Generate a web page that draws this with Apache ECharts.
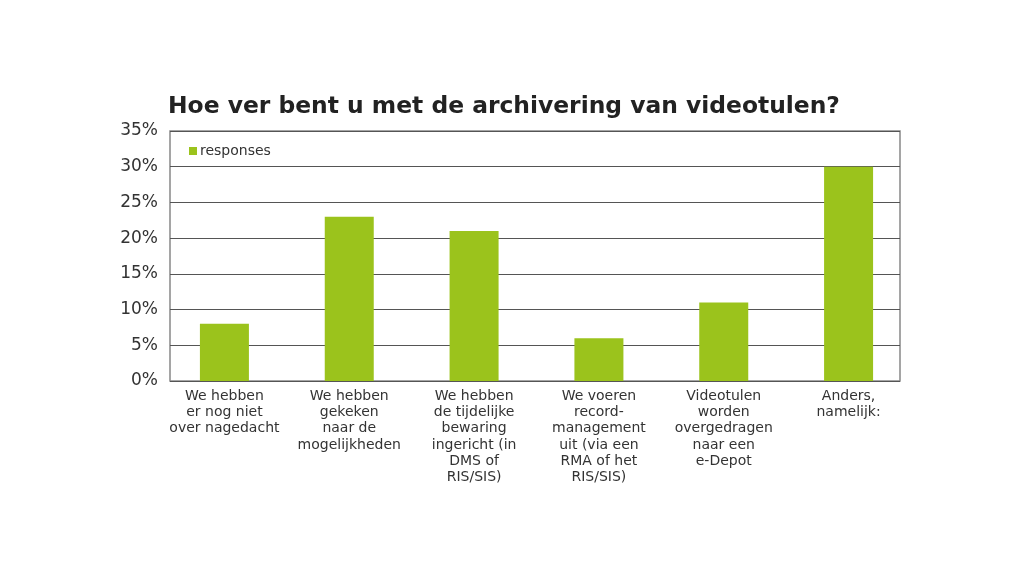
<!DOCTYPE html>
<html><head><meta charset="utf-8">
<script src="https://cdn.jsdelivr.net/npm/echarts@6/dist/echarts.min.js"></script>
<style>html,body{margin:0;padding:0;background:#fff}#c{width:1030px;height:580px}</style>
</head><body><div id="c"></div>
<script>
const categories = [
  "We hebben\ner nog niet\nover nagedacht",
  "We hebben\ngekeken\nnaar de\nmogelijkheden",
  "We hebben\nde tijdelijke\nbewaring\ningericht (in\nDMS of\nRIS/SIS)",
  "We voeren\nrecord-\nmanagement\nuit (via een\nRMA of het\nRIS/SIS)",
  "Videotulen\nworden\novergedragen\nnaar een\ne-Depot",
  "Anders,\nnamelijk:"
];
const responses = [8, 23, 21, 6, 11, 30];
const yTicks = [0, 5, 10, 15, 20, 25, 30, 35];
const seriesName = "responses";
const chartTitle = "Hoe ver bent u met de archivering van videotulen?";

const font = "DejaVu Sans, Liberation Sans, Arial, sans-serif";
const chart = echarts.init(document.getElementById('c'));
chart.setOption({
  animation: false,
  title: {
    text: chartTitle, left: 163, top: 90,
    textStyle: { fontFamily: font, fontSize: 23.4, fontWeight: 'bold', color: '#222' }
  },
  legend: {
    data: [seriesName], left: 184, top: 139, itemWidth: 8, itemHeight: 8, itemGap: 4,
    icon: 'rect',
    textStyle: { fontFamily: font, fontSize: 14, color: '#333', padding: [0,0,0,-2] }
  },
  grid: [
    { left: 170, right: 130, top: 131, bottom: 199, show: true, borderColor: '#888', borderWidth: 1.5 },
    { left: 162, right: 119, top: 131, bottom: 199 }
  ],
  xAxis: [
    { gridIndex: 0, type: 'category', data: categories, show: false },
    { gridIndex: 1, type: 'category', data: categories, boundaryGap: true,
      axisLine: { show: false }, axisTick: { show: false },
      axisLabel: { interval: 0, margin: 7, fontFamily: font, fontSize: 14, lineHeight: 16.3, color: '#333', align: 'center' } }
  ],
  yAxis: [
    { gridIndex: 0, type: 'value', min: yTicks[0], max: yTicks[yTicks.length-1], interval: 5,
      axisLine: { show: false }, axisTick: { show: false },
      splitLine: { show: true, lineStyle: { color: '#555', width: 1.2 } },
      axisLabel: { margin: 12, fontFamily: font, fontSize: 17, color: '#333', formatter: v => v + '%' } },
    { gridIndex: 1, type: 'value', min: yTicks[0], max: yTicks[yTicks.length-1], interval: 5, show: false }
  ],
  series: [{
    name: seriesName, type: 'bar', xAxisIndex: 1, yAxisIndex: 1,
    data: responses, barWidth: 49, itemStyle: { color: '#9bc31c' }
  }]
});
</script></body></html>
